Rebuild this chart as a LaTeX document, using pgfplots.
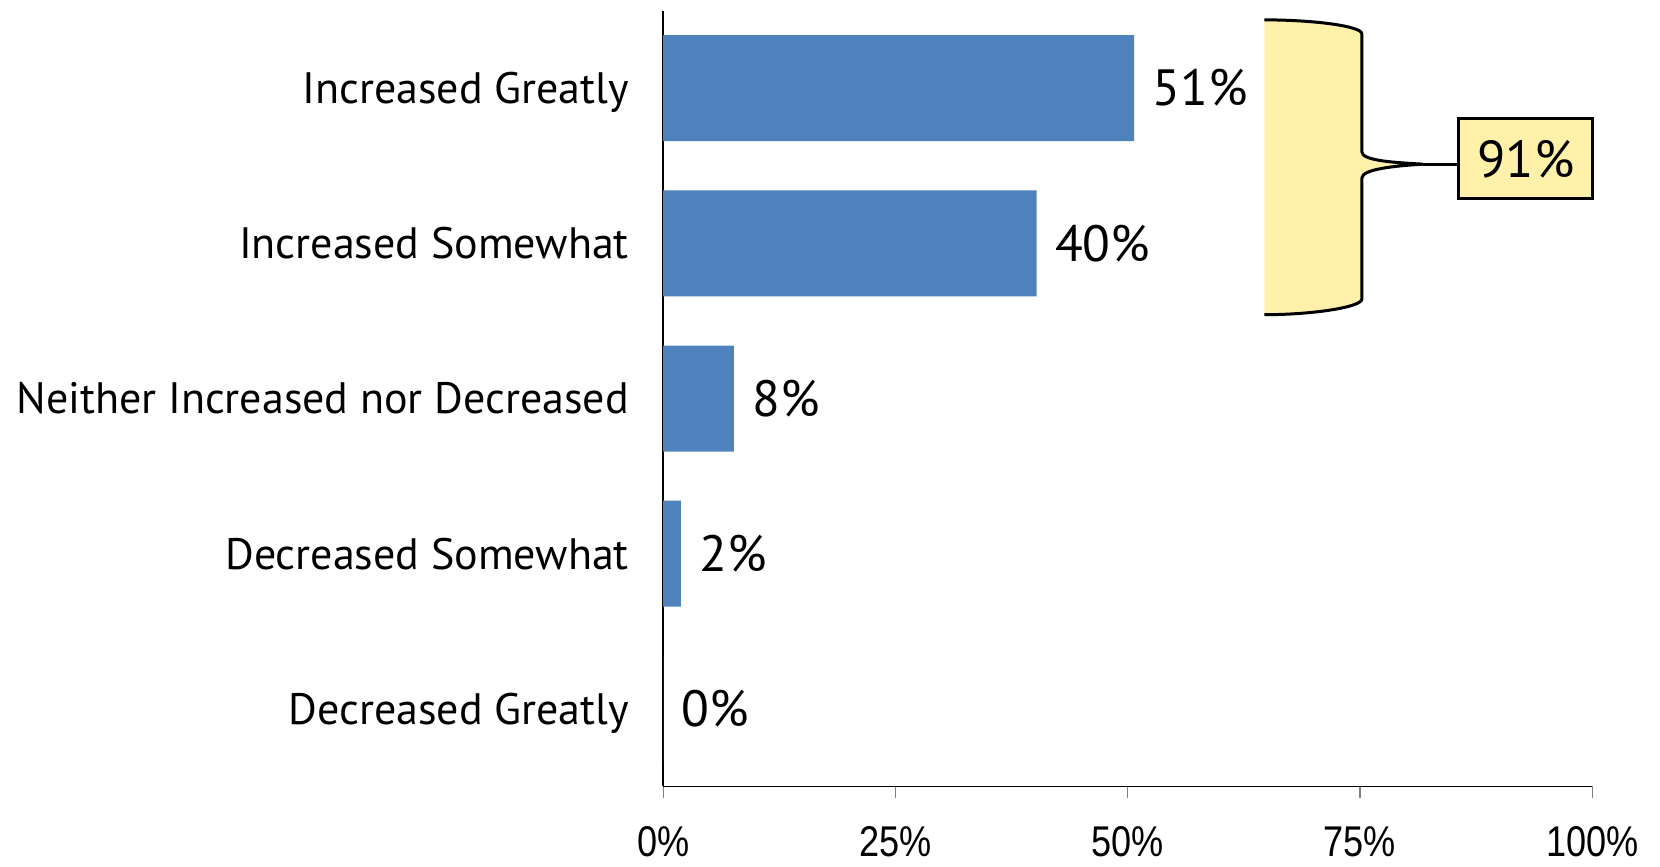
\documentclass[border=0pt]{standalone}
\usepackage{pgfplots}
\pgfplotsset{compat=1.18}
\usepackage{fontspec}
\setmainfont{PT Sans}
\newfontfamily\lbl{PT Sans}
\newfontfamily\tickfont{Liberation Sans}
\definecolor{barblue}{RGB}{79,129,189}
\definecolor{braceyellow}{RGB}{255,240,170}
\newcommand\tk[1]{\scalebox{0.84}[1]{#1}}
\begin{document}
\begin{tikzpicture}
\begin{axis}[
 scale only axis, width=464.5pt, height=388pt,
 xbar, bar width=53pt,
 xmin=0, xmax=100, ymin=-0.5, ymax=4.5, y dir=reverse,
 axis lines*=left,
 axis line style={black, line width=0.8pt},
 clip=false,
 tick align=outside,
 major tick length=6pt,
 xtick={0,25,50,75,100},
 xticklabels={\tk{0\%},\tk{25\%},\tk{50\%},\tk{75\%},\tk{100\%}},
 xtick style={draw=gray, line width=0.6pt},
 xticklabel style={font=\tickfont\fontsize{21.5}{25}\selectfont, anchor=base, inner sep=0pt, yshift=-29pt},
 ytick={0,1,2,3,4},
 yticklabels={Increased Greatly, Increased Somewhat, Neither Increased nor Decreased, Decreased Somewhat, Decreased Greatly},
 ytick style={draw=none},
 yticklabel style={font=\lbl\fontsize{22}{27}\selectfont, anchor=base east, inner sep=0pt, yshift=-7.7pt, xshift=-11pt},
 point meta=explicit symbolic,
 nodes near coords,
 every node near coord/.append style={font=\lbl\fontsize{25.5}{30}\selectfont, anchor=base west, inner sep=0pt, xshift=9pt, yshift=-8.9pt},
]
\addplot[fill=barblue, draw=none] coordinates {(50.7,0) [51\%] (40.2,1) [40\%] (7.6,2) [8\%] (1.9,3) [2\%] (0,4) [0\%]};
\path (-71.4,-0.568) rectangle (107.3,5.015);
\fill[braceyellow] (64.7,-0.44) .. controls (70,-0.44) and (75.2,-0.40) .. (75.2,-0.35) -- (75.2,0.41) .. controls (75.2,0.47) and (79,0.48) .. (81.8,0.49) .. controls (79,0.50) and (75.2,0.52) .. (75.2,0.58) -- (75.2,1.36) .. controls (75.2,1.41) and (70,1.46) .. (64.7,1.46) -- cycle;
\draw[line width=1.5pt] (64.7,-0.44) .. controls (70,-0.44) and (75.2,-0.40) .. (75.2,-0.35) -- (75.2,0.41) .. controls (75.2,0.47) and (79,0.48) .. (81.8,0.49) .. controls (79,0.50) and (75.2,0.52) .. (75.2,0.58) -- (75.2,1.36) .. controls (75.2,1.41) and (70,1.46) .. (64.7,1.46);
\draw[line width=1.5pt] (81.8,0.49) -- (85.5,0.49);
\node[draw, fill=braceyellow, line width=1.5pt, minimum width=67pt, minimum height=40pt, anchor=west, inner sep=0pt, font=\lbl\fontsize{26}{30}\selectfont] at (85.5,0.456) {91\%};
\end{axis}
\end{tikzpicture}
\end{document}
